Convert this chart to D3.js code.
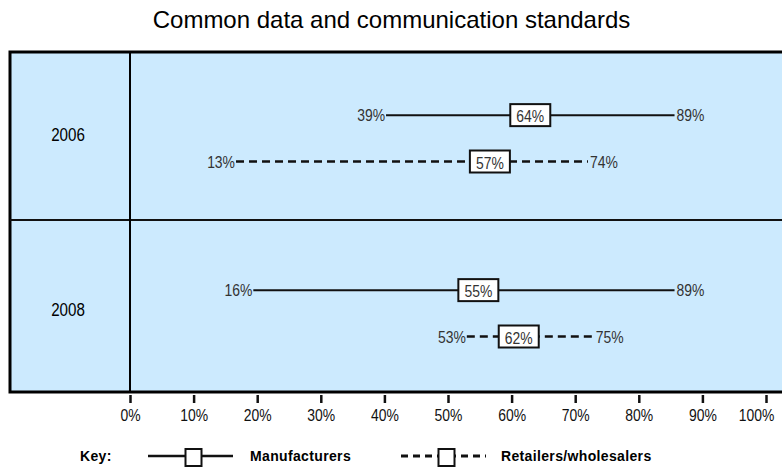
<!DOCTYPE html>
<html>
<head>
<meta charset="utf-8">
<script src="https://cdn.jsdelivr.net/npm/d3@7/dist/d3.min.js"></script>
<style>
  html, body { margin: 0; padding: 0; background: #fff; }
  svg { display: block; }
</style>
</head>
<body>
<script>
// Survey years (one panel row each) and the two respondent groups
const years = ["2006", "2008"];
const groups = ["Manufacturers", "Retailers/wholesalers"];

// Range per year and group: low end, central figure, high end (percent)
const lowValues = [[39, 13], [16, 53]];
const midValues = [[64, 57], [55, 62]];
const highValues = [[89, 74], [89, 75]];

// Axis tick values
const tickValues = [0, 10, 20, 30, 40, 50, 60, 70, 80, 90, 100];

const chartTitle = "Common data and communication standards";
const keyLabel = "Key:";

const W = 782, H = 469;
const frame = { left: 10, top: 52, bottom: 392, split: 130 };

const svg = d3.select("body").append("svg")
  .attr("width", W).attr("height", H);

const sans = "'Liberation Sans', Arial, Helvetica, sans-serif";
const SQUEEZE = 0.82; // horizontal squeeze giving a condensed face

// Place a condensed label: the text sits at the origin of its own transform
function narrowText(sel, px, py, size) {
  return sel
    .attr("x", 0).attr("y", 0)
    .attr("transform", (d, i, n) => `translate(${px(d)},${py(d)}) scale(${SQUEEZE},1)`)
    .style("font-family", sans).style("font-size", size + "px");
}

// Percent axis along the bottom of the panel
const x = d3.scaleLinear().domain([0, 100]).range([130, 766]);
// Range markers are laid out slightly inset from the axis span
const xMark = d3.scaleLinear().domain([0, 100]).range([161, 738]);

// Year rows
const y = d3.scaleBand().domain(years).range([46, 396]);
// Position of each group's line inside its row
const groupOffset = d3.scaleOrdinal().domain(groups).range([0.395, 0.66]);
const dashFor = d3.scaleOrdinal().domain(groups).range(["none", "8,5"]);
const widthFor = d3.scaleOrdinal().domain(groups).range([2, 2.6]);

// Title
svg.append("text")
  .attr("x", W / 2 + 0.5).attr("y", 28)
  .attr("text-anchor", "middle")
  .style("font-family", sans).style("font-size", "24px")
  .text(chartTitle);

// Panel background and frame
svg.append("rect")
  .attr("x", frame.left).attr("y", frame.top)
  .attr("width", 820).attr("height", frame.bottom - frame.top)
  .attr("fill", "#cceafe").attr("stroke", "#000").attr("stroke-width", 3);

svg.append("line")
  .attr("x1", frame.left).attr("x2", W + 10)
  .attr("y1", y("2008") - 1).attr("y2", y("2008") - 1)
  .attr("stroke", "#111").attr("stroke-width", 2.2);

svg.append("line")
  .attr("x1", x(0)).attr("x2", x(0))
  .attr("y1", frame.top).attr("y2", frame.bottom)
  .attr("stroke", "#000").attr("stroke-width", 2);

// Year labels in the left column
svg.selectAll("text.year").data(years).join("text")
  .attr("class", "year")
  .call(narrowText, () => (frame.left + frame.split) / 2 - 2, d => y(d) + y.bandwidth() / 2 + 1, 18.5)
  .attr("dy", "0.35em")
  .attr("text-anchor", "middle")
  .attr("fill", "#000")
  .text(d => d);

// Build one record per year/group
const records = [];
years.forEach((yr, i) => {
  groups.forEach((g, j) => {
    records.push({ year: yr, group: g, lo: lowValues[i][j], mid: midValues[i][j], hi: highValues[i][j] });
  });
});
const yPos = d => y(d.year) + y.bandwidth() * groupOffset(d.group);

const marks = svg.append("g").selectAll("g").data(records).join("g");

marks.append("line")
  .attr("x1", d => xMark(d.lo)).attr("x2", d => xMark(d.hi))
  .attr("y1", yPos).attr("y2", yPos)
  .attr("stroke", "#111")
  .attr("stroke-width", d => widthFor(d.group))
  .attr("stroke-dasharray", d => dashFor(d.group));

const valueSize = 17;

marks.append("text")
  .call(narrowText, d => xMark(d.lo) - 1, yPos, valueSize)
  .attr("dy", "0.36em").attr("text-anchor", "end").attr("fill", "#333")
  .text(d => d.lo + "%");

marks.append("text")
  .call(narrowText, d => xMark(d.hi) + 2, yPos, valueSize)
  .attr("dy", "0.36em").attr("text-anchor", "start").attr("fill", "#333")
  .text(d => d.hi + "%");

const boxW = 40, boxH = 22;
marks.append("rect")
  .attr("x", d => xMark(d.mid) - boxW / 2).attr("y", d => yPos(d) - boxH / 2)
  .attr("width", boxW).attr("height", boxH)
  .attr("fill", "#fff").attr("stroke", "#111").attr("stroke-width", 2);

marks.append("text")
  .call(narrowText, d => xMark(d.mid), d => yPos(d) + 1, valueSize)
  .attr("dy", "0.36em").attr("text-anchor", "middle").attr("fill", "#333")
  .text(d => d.mid + "%");

// Bottom axis
const axis = svg.append("g")
  .attr("transform", `translate(0,${frame.bottom + 3})`)
  .call(d3.axisBottom(x).tickValues(tickValues).tickFormat(d => d + "%").tickSize(8).tickPadding(6));
axis.select(".domain").remove();
axis.selectAll(".tick line").attr("stroke", "#111").attr("stroke-width", 2.5);
axis.selectAll(".tick text")
  .attr("transform", `scale(${SQUEEZE},1)`)
  .style("font-family", sans).style("font-size", "17px").attr("fill", "#111");
// keep the last label inside the page edge
axis.selectAll(".tick text").filter(d => d === 100)
  .attr("text-anchor", "end").attr("x", 8 / SQUEEZE);

// Key
const keyY = 456;
const keyText = sel => sel
  .style("font-family", sans).style("font-size", "14px").style("font-weight", "bold")
  .style("letter-spacing", "0.35px");
svg.append("text")
  .attr("x", 80).attr("y", keyY).attr("dy", "0.35em")
  .call(keyText)
  .text(keyLabel);

const keyItems = groups.map((g, i) => ({ group: g, x0: [148, 401][i], x1: [233, 486][i], box: [193.5, 446.5][i], tx: [250, 501][i] }));
const key = svg.append("g").selectAll("g").data(keyItems).join("g");
key.append("line")
  .attr("x1", d => d.x0).attr("x2", d => d.x1)
  .attr("y1", keyY).attr("y2", keyY)
  .attr("stroke", "#111")
  .attr("stroke-width", d => widthFor(d.group) + 0.4)
  .attr("stroke-dasharray", d => d.group === groups[1] ? "7,5" : "none");
key.append("rect")
  .attr("x", d => d.box - 8).attr("y", keyY - 7)
  .attr("width", 16).attr("height", 17)
  .attr("fill", "#fff").attr("stroke", "#111").attr("stroke-width", 2);
key.append("text")
  .attr("x", d => d.tx).attr("y", keyY).attr("dy", "0.35em")
  .call(keyText)
  .text(d => d.group);
</script>
</body>
</html>
